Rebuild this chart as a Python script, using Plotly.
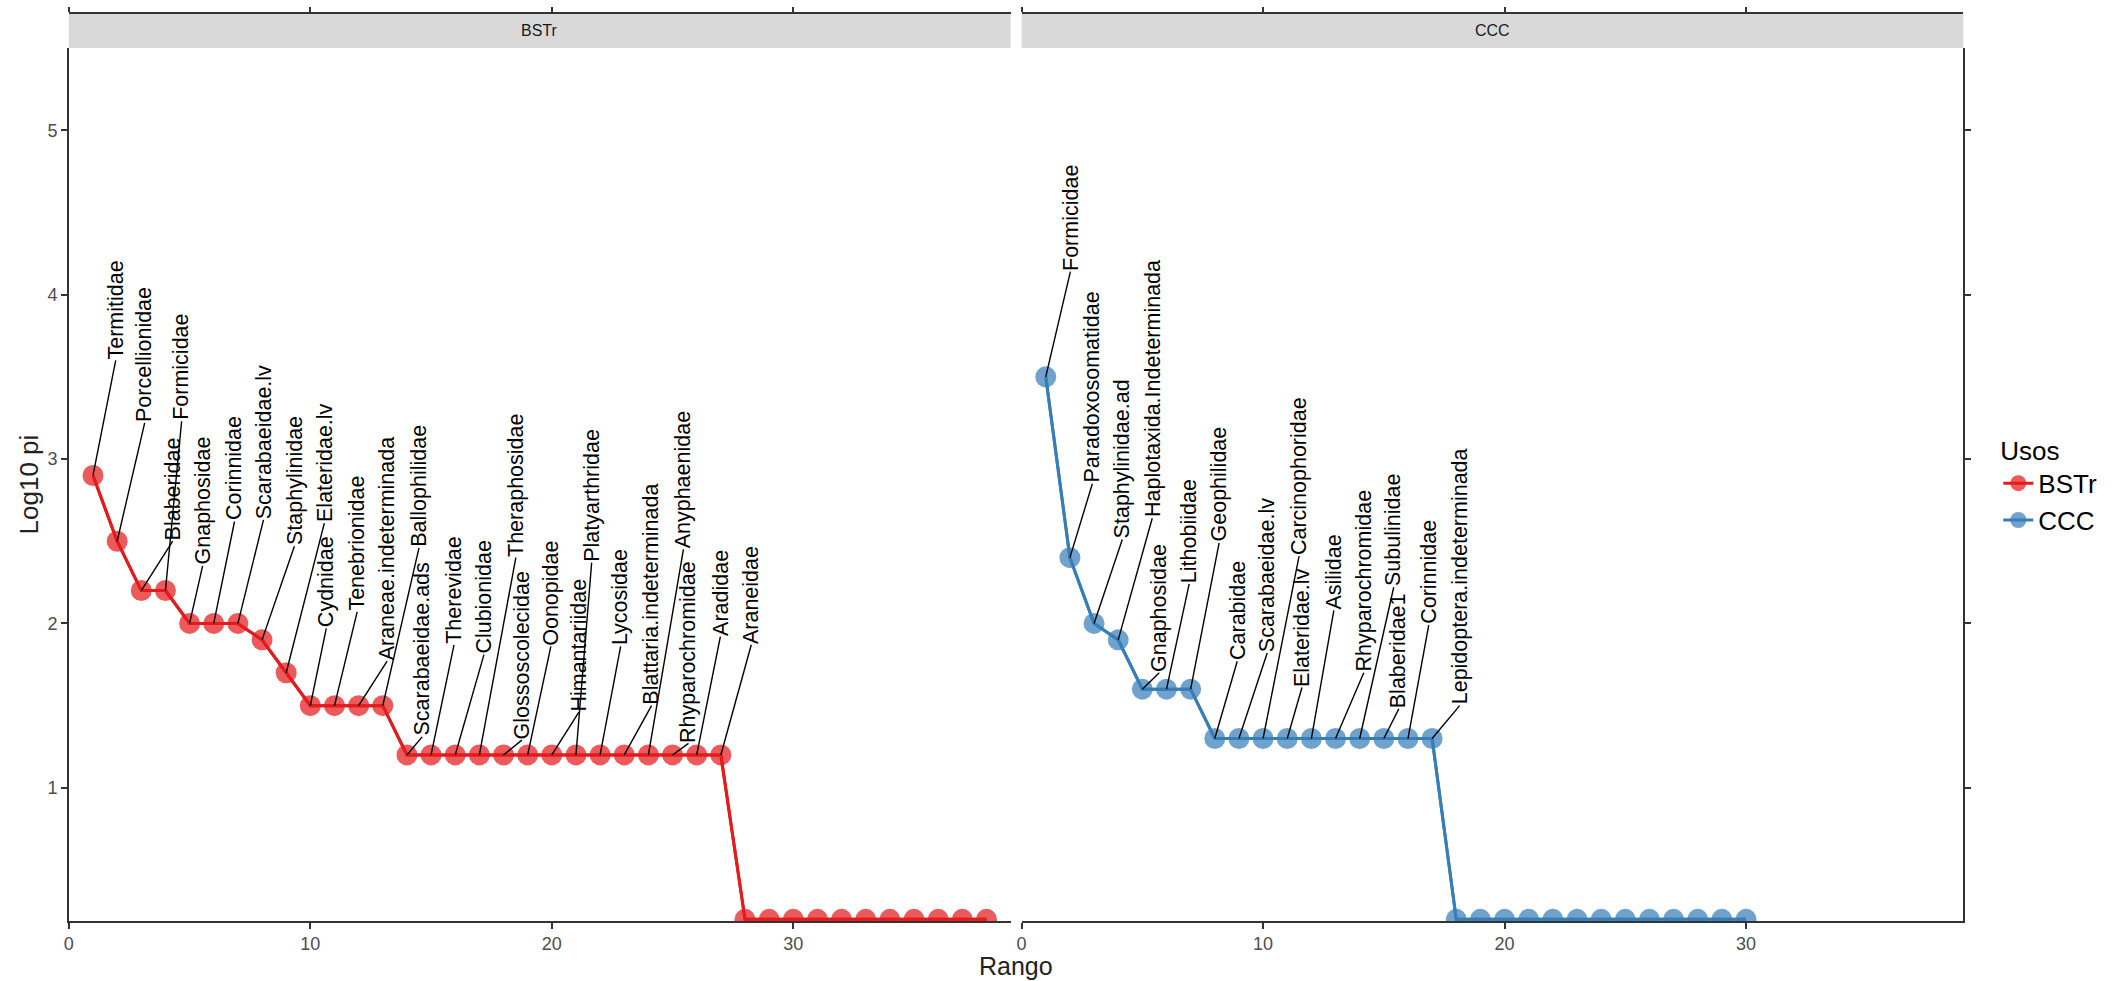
import plotly.graph_objects as go

# ---------------- data ----------------
rank_bstr = [1, 2, 3, 4, 5, 6, 7, 8, 9, 10, 11, 12, 13, 14, 15, 16, 17, 18, 19,
             20, 21, 22, 23, 24, 25, 26, 27, 28, 29, 30, 31, 32, 33, 34, 35, 36, 37, 38]
logpi_bstr = [2.9, 2.5, 2.2, 2.2, 2.0, 2.0, 2.0, 1.9, 1.7, 1.5, 1.5, 1.5, 1.5,
              1.2, 1.2, 1.2, 1.2, 1.2, 1.2, 1.2, 1.2, 1.2, 1.2, 1.2, 1.2, 1.2, 1.2,
              0.2, 0.2, 0.2, 0.2, 0.2, 0.2, 0.2, 0.2, 0.2, 0.2, 0.2]
family_bstr = ["Termitidae", "Porcellionidae", "Blaberidae", "Formicidae", "Gnaphosidae",
               "Corinnidae", "Scarabaeidae.lv", "Staphylinidae", "Elateridae.lv", "Cydnidae",
               "Tenebrionidae", "Araneae.indeterminada", "Ballophilidae", "Scarabaeidae.ads",
               "Therevidae", "Clubionidae", "Theraphosidae", "Glossoscolecidae", "Oonopidae",
               "Himantariidae", "Platyarthridae", "Lycosidae", "Blattaria.indeterminada",
               "Anyphaenidae", "Rhyparochromidae", "Aradidae", "Araneidae"]

rank_ccc = [1, 2, 3, 4, 5, 6, 7, 8, 9, 10, 11, 12, 13, 14, 15, 16, 17, 18, 19, 20,
            21, 22, 23, 24, 25, 26, 27, 28, 29, 30]
logpi_ccc = [3.5, 2.4, 2.0, 1.9, 1.6, 1.6, 1.6, 1.3, 1.3, 1.3, 1.3, 1.3, 1.3, 1.3,
             1.3, 1.3, 1.3, 0.2, 0.2, 0.2, 0.2, 0.2, 0.2, 0.2, 0.2, 0.2, 0.2, 0.2, 0.2, 0.2]
family_ccc = ["Formicidae", "Paradoxosomatidae", "Staphylinidae.ad", "Haplotaxida.Indeterminada",
              "Gnaphosidae", "Lithobiidae", "Geophilidae", "Carabidae", "Scarabaeidae.lv",
              "Carcinophoridae", "Elateridae.lv", "Asilidae", "Rhyparochromidae", "Subulinidae",
              "Blaberidae1", "Corinnidae", "Lepidoptera.indeterminada"]

usos = ["BSTr", "CCC"]
x_ticks = [0, 10, 20, 30]
y_ticks = [1, 2, 3, 4, 5]

# ---------------- label placement (repelled label anchors, layout only) ----------------
lab_x_bstr = [1.94, 3.14, 4.30, 4.67, 5.54, 6.86, 8.06, 9.34, 10.58, 10.66, 11.94, 13.18,
              14.50, 14.63, 15.95, 17.19, 18.51, 18.76, 19.96, 21.12, 21.65, 22.85, 24.13,
              25.45, 25.66, 26.98, 28.26]
lab_y_bstr = [3.60, 3.22, 2.50, 3.23, 2.35, 2.62, 2.63, 2.47, 2.61, 1.97, 2.07, 1.77,
              2.46, 1.31, 1.87, 1.81, 2.40, 1.29, 1.86, 1.46, 2.37, 1.86, 1.50, 2.45,
              1.27, 1.92, 1.87]
lab_x_ccc = [2.02, 2.93, 4.17, 5.41, 5.70, 6.94, 8.18, 8.93, 10.17, 11.49, 11.61, 12.93,
             14.17, 15.41, 15.62, 16.86, 18.14]
lab_y_ccc = [4.14, 2.85, 2.51, 2.64, 1.70, 2.24, 2.49, 1.77, 1.82, 2.41, 1.61, 2.08,
             1.70, 2.22, 1.48, 1.99, 1.50]

# ---------------- style ----------------
FONT = "Liberation Sans, Arial, sans-serif"
colors = {"BSTr": "#E41A1C", "CCC": "#377EB8"}
AX = "#333333"
W, H = 2127, 981
# panel geometry (pixels)
left_x0, left_x1 = 64, 1008
right_x0, right_x1 = 1019, 1963
plot_top, plot_bot = 48, 921
strip_top = 13

XR = [0, 39]
YR = [0.19, 5.5]

dom_l = [left_x0 / W, left_x1 / W]
dom_r = [right_x0 / W, right_x1 / W]
dom_y = [(H - plot_bot) / H, (H - plot_top) / H]
strip_y = [(H - plot_top) / H, (H - strip_top) / H]

fig = go.Figure()

panels = [
    ("BSTr", "x", "y", "x3", "x domain", rank_bstr, logpi_bstr, family_bstr, lab_x_bstr, lab_y_bstr),
    ("CCC", "x2", "y2", "x4", "x2 domain", rank_ccc, logpi_ccc, family_ccc, lab_x_ccc, lab_y_ccc),
]

annotations = []
shapes = []
for name, xa, ya, xtop, xdom, ranks, vals, fams, lx, ly in panels:
    col = colors[name]
    # points (+ legend entry)
    fig.add_trace(go.Scatter(x=ranks, y=vals, mode="lines+markers", name=name,
                             marker=dict(size=21, color=col, opacity=0.72, line=dict(width=0)),
                             line=dict(color=col, width=3),
                             xaxis=xa, yaxis=ya, hoverinfo="skip"))
    # line on top of points
    fig.add_trace(go.Scatter(x=ranks, y=vals, mode="lines", showlegend=False,
                             line=dict(color=col, width=3),
                             xaxis=xa, yaxis=ya, hoverinfo="skip"))
    # label segments
    sx, sy = [], []
    for i in range(len(fams)):
        sx += [ranks[i], lx[i], None]
        sy += [vals[i], ly[i], None]
    fig.add_trace(go.Scatter(x=sx, y=sy, mode="lines", showlegend=False,
                             line=dict(color="black", width=1.4),
                             xaxis=xa, yaxis=ya, hoverinfo="skip"))
    # invisible trace to anchor the top (mirror) axis
    fig.add_trace(go.Scatter(x=ranks, y=vals, mode="markers", showlegend=False,
                             marker=dict(opacity=0), xaxis=xtop, yaxis=ya, hoverinfo="skip"))
    for i, f in enumerate(fams):
        annotations.append(dict(x=lx[i], y=ly[i], xref=xa, yref=ya, text=f, textangle=-90,
                                showarrow=False, xanchor="center", yanchor="bottom",
                                font=dict(family=FONT, size=21.5, color="black"), borderpad=0))
    # strip
    shapes.append(dict(type="rect", xref=xdom, yref="paper", x0=0, x1=1,
                       y0=strip_y[0], y1=strip_y[1], fillcolor="#D9D9D9",
                       line=dict(width=0), layer="below"))
    annotations.append(dict(x=0.5, y=(strip_y[0] + strip_y[1]) / 2, xref=xdom, yref="paper",
                            text=name, showarrow=False, xanchor="center", yanchor="middle",
                            font=dict(family=FONT, size=16, color="#1A1A1A")))

# right-side mirror y axis trace
fig.add_trace(go.Scatter(x=rank_ccc, y=logpi_ccc, mode="markers", showlegend=False,
                         marker=dict(opacity=0), xaxis="x2", yaxis="y3", hoverinfo="skip"))

# axis titles
annotations.append(dict(x=(left_x0 + right_x1) / 2 / W, y=15 / H, xref="paper", yref="paper",
                        text="Rango", showarrow=False, xanchor="center", yanchor="middle",
                        font=dict(family=FONT, size=25, color="#222222")))
annotations.append(dict(x=25 / W, y=(dom_y[0] + dom_y[1]) / 2, xref="paper", yref="paper",
                        text="Log10 pi", textangle=-90, showarrow=False,
                        xanchor="center", yanchor="middle",
                        font=dict(family=FONT, size=26, color="#222222")))

tickfont = dict(family=FONT, size=18, color="#4D4D4D")
base_x = dict(range=XR, tickvals=x_ticks, showgrid=False, zeroline=False, showline=True,
              linecolor=AX, linewidth=1.6, ticks="outside", ticklen=6, tickwidth=1.6,
              tickcolor=AX, tickfont=tickfont, fixedrange=True)
top_x = dict(range=XR, tickvals=x_ticks, showgrid=False, zeroline=False, showline=True,
             linecolor=AX, linewidth=1.6, ticks="outside", ticklen=5, tickwidth=1.6,
             tickcolor=AX, showticklabels=False, side="top", anchor="free",
             position=strip_y[1])

fig.update_layout(
    width=W, height=H,
    margin=dict(l=0, r=0, t=0, b=0, pad=0),
    paper_bgcolor="white", plot_bgcolor="white",
    font=dict(family=FONT),
    xaxis=dict(domain=dom_l, anchor="y", **base_x),
    xaxis2=dict(domain=dom_r, anchor="y2", **base_x),
    xaxis3=dict(overlaying="x", **top_x),
    xaxis4=dict(overlaying="x2", **top_x),
    yaxis=dict(domain=dom_y, anchor="x", range=YR, tickvals=y_ticks, showgrid=False,
               zeroline=False, showline=True, linecolor=AX, linewidth=1.6, ticks="outside",
               ticklen=6, tickwidth=1.6, tickcolor=AX, tickfont=tickfont, fixedrange=True),
    yaxis2=dict(domain=dom_y, anchor="x2", range=YR, showgrid=False, zeroline=False,
                showline=False, ticks="", showticklabels=False, fixedrange=True),
    yaxis3=dict(overlaying="y2", anchor="x2", side="right", range=YR, tickvals=y_ticks,
                showgrid=False, zeroline=False, showline=True, linecolor=AX, linewidth=1.6,
                ticks="outside", ticklen=6, tickwidth=1.6, tickcolor=AX,
                showticklabels=False, fixedrange=True),
    legend=dict(x=1998 / W, y=(H - 426) / H, xanchor="left", yanchor="top",
                title=dict(text="Usos", font=dict(family=FONT, size=26, color="black")),
                font=dict(family=FONT, size=26, color="black"),
                bgcolor="rgba(0,0,0,0)", borderwidth=0, tracegroupgap=0),
    annotations=annotations,
    shapes=shapes,
    showlegend=True,
)

fig.write_html("out.html", config={"displayModeBar": False},
               post_script="document.body.style.margin='0';document.body.style.overflow='hidden';")
